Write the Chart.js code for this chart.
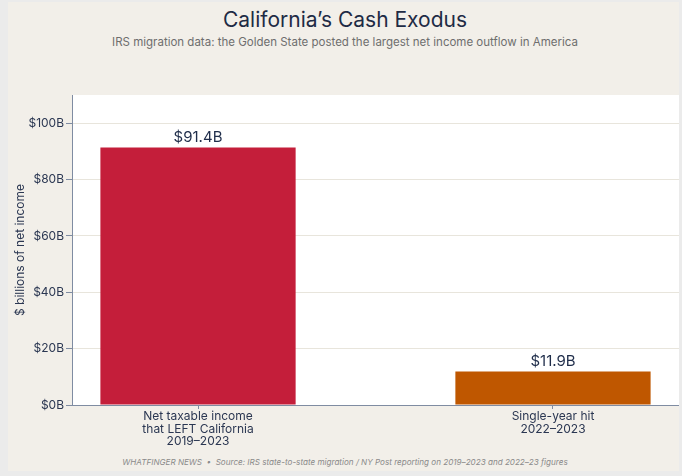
<!DOCTYPE html>
<html>
<head>
<meta charset="utf-8">
<script src="https://cdn.jsdelivr.net/npm/chart.js@4"></script>
<style>
  html, body { margin:0; padding:0; background:#ebebeb; width:682px; height:476px; overflow:hidden; }
  #panel { position:absolute; left:8px; top:2px; width:671px; height:469px; background:#f2efe9; font-family:Inter, "Noto Sans", sans-serif; }
  #title { position:absolute; left:0; width:674px; top:4px; text-align:center; font-size:21px; color:#1e2b45; line-height:28px; }
  #subtitle { position:absolute; left:0; width:674px; top:32px; text-align:center; font-size:11.5px; color:#6e6e6e; line-height:16px; }
  #footer { position:absolute; left:0; width:674px; top:454px; text-align:center; font-size:8.1px; font-style:italic; color:#8a8a8a; line-height:12px; }
  #wrap { position:absolute; left:0; top:58px; width:671px; height:392px; }
</style>
</head>
<body>
<div id="panel">
  <div id="title">California’s Cash Exodus</div>
  <div id="subtitle">IRS migration data: the Golden State posted the largest net income outflow in America</div>
  <div id="wrap"><canvas id="c"></canvas></div>
  <div id="footer">WHATFINGER NEWS &nbsp;•&nbsp; Source: IRS state-to-state migration / NY Post reporting on 2019–2023 and 2022–23 figures</div>
</div>
<script>
const categories = [
  ["Net taxable income", "that LEFT California", "2019–2023"],
  ["Single-year hit", "2022–2023"]
];
const values = [91.4, 11.9];
const valueLabels = ["$91.4B", "$11.9B"];
const barColors = ["#c41e3a", "#bf5700"];
const yTicks = [0, 20, 40, 60, 80, 100];
const yTickLabels = ["$0B", "$20B", "$40B", "$60B", "$80B", "$100B"];

const axisColor = "#7f8ca2";
const textColor = "#2b3752";

const plotBg = {
  id: "plotBg",
  beforeDraw(chart) {
    const a = chart.chartArea, ctx = chart.ctx;
    ctx.save(); ctx.fillStyle = "#ffffff";
    ctx.fillRect(a.left, a.top, a.right - a.left, a.bottom - a.top);
    ctx.restore();
  }
};
const valueLabelPlugin = {
  id: "valueLabels",
  afterDatasetsDraw(chart) {
    const meta = chart.getDatasetMeta(0), ctx = chart.ctx;
    ctx.save();
    ctx.font = "15px Inter, 'Noto Sans', sans-serif";
    ctx.fillStyle = "#1f2d4a";
    ctx.textAlign = "center";
    ctx.textBaseline = "bottom";
    meta.data.forEach((el, i) => {
      ctx.fillText(valueLabels[i], el.x, el.y - 2);
    });
    ctx.restore();
  }
};

new Chart(document.getElementById("c"), {
  type: "bar",
  data: {
    datasets: [{
      data: values.map((v, i) => ({ x: i, y: v })),
      backgroundColor: barColors,
      borderWidth: 0,
      barPercentage: 0.55,
      categoryPercentage: 1
    }]
  },
  options: {
    responsive: true,
    maintainAspectRatio: false,
    animation: false,
    layout: { padding: { top: 35, right: 0, left: 0, bottom: 0 } },
    plugins: { legend: { display: false }, tooltip: { enabled: false } },
    scales: {
      x: {
        type: "linear",
        min: -0.355,
        max: 1.355,
        offset: false,
        afterBuildTicks(scale) { scale.ticks = categories.map((c, i) => ({ value: i })); },
        afterFit(scale) { scale.height = 47; },
        ticks: {
          autoSkip: false,
          maxRotation: 0,
          padding: 1,
          color: textColor,
          font: { family: "Inter", size: 12, lineHeight: 1.05 },
          callback: (v) => categories[v]
        },
        grid: { offset: false, drawOnChartArea: false, tickLength: 4, tickColor: axisColor },
        border: { color: axisColor, width: 1 }
      },
      y: {
        min: 0,
        max: 110,
        afterBuildTicks(scale) { scale.ticks = yTicks.map(v => ({ value: v })); },
        afterFit(scale) { scale.width = 64; },
        ticks: {
          padding: 2,
          color: textColor,
          font: { family: "Inter", size: 12 },
          callback: (v) => yTickLabels[yTicks.indexOf(v)]
        },
        grid: { color: "#e8e5dc", tickLength: 6, tickColor: axisColor },
        border: { color: axisColor, width: 1 },
        title: {
          display: true,
          text: "$ billions of net income",
          color: textColor,
          font: { family: "Inter", size: 12 },
          padding: { top: 5, bottom: 0 }
        }
      }
    }
  },
  plugins: [plotBg, valueLabelPlugin]
});
</script>
</body>
</html>
